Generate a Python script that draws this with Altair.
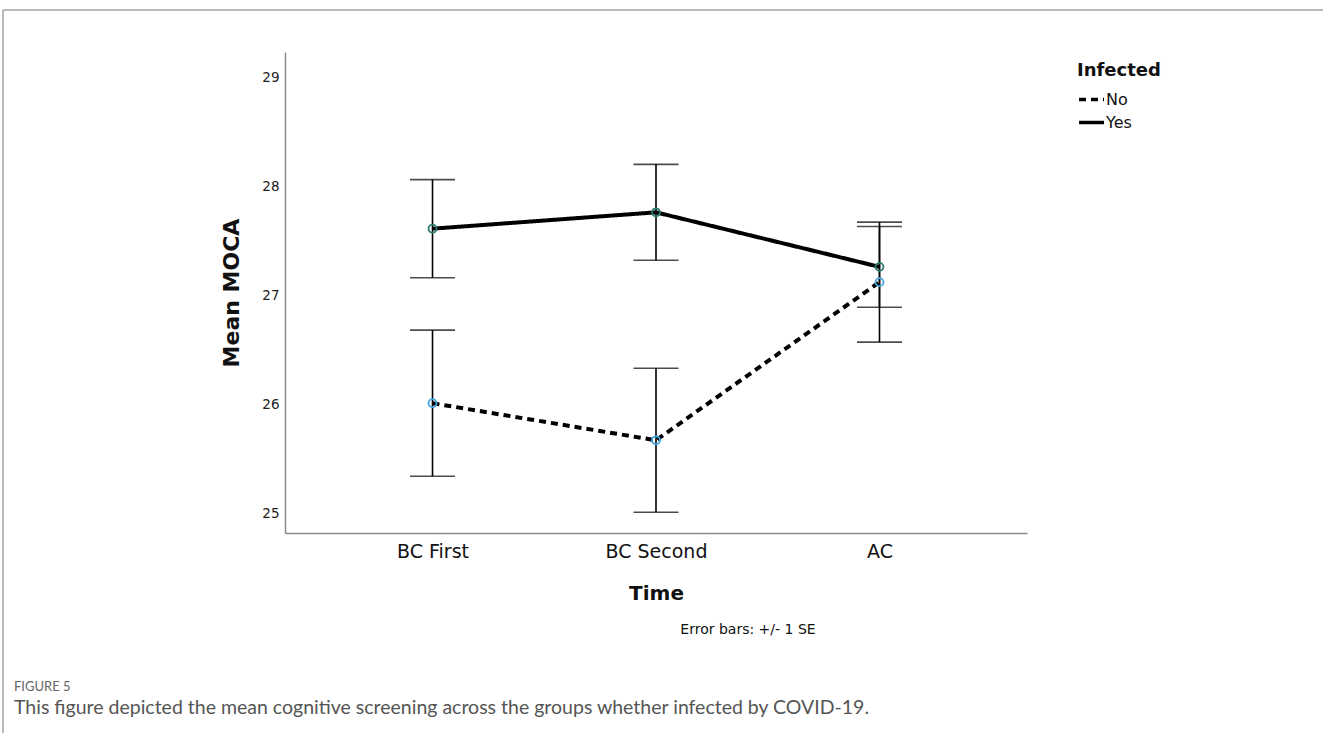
import altair as alt
import pandas as pd

times = ["BC First", "BC Second", "AC"]
groups = ["No", "Yes"]
no_mean = [26.01, 25.67, 27.12]
no_se = [0.67, 0.66, 0.55]
yes_mean = [27.61, 27.76, 27.26]
yes_se = [0.45, 0.44, 0.37]
y_ticks = [25, 26, 27, 28, 29]
point_colors = {"No": "#3fa6e0", "Yes": "#2b7a70"}

rows = []
for g, means, ses in [("No", no_mean, no_se), ("Yes", yes_mean, yes_se)]:
    for t, m, s in zip(times, means, ses):
        rows.append({"Time": t, "Infected": g, "mean": m, "lo": m - s, "hi": m + s})
df = pd.DataFrame(rows)

FONT = "DejaVu Sans"
CAPFONT = "Lato"
W, H = 742, 481

xenc = alt.X("Time:N", sort=times,
             scale=alt.Scale(type="point", padding=0.66),
             axis=alt.Axis(title="Time", labelAngle=0, labelAlign="center", ticks=False,
                           labelFontSize=19, labelPadding=18, titleFontSize=20,
                           titleFontWeight="bold", titlePadding=22, domainColor="#8a8a8a",
                           domainWidth=1.5, labelColor="#111", titleColor="#111",
                           labelFont=FONT, titleFont=FONT))
yscale = alt.Scale(domain=[24.82, 29.23], nice=False, zero=False)
yenc = alt.Y("mean:Q", scale=yscale,
             axis=alt.Axis(title="Mean MOCA", values=y_ticks, format="d", ticks=False,
                           grid=False, labelFontSize=13.5, labelPadding=6, titleFontSize=22,
                           titleFontWeight="bold", titlePadding=18, domainColor="#8a8a8a",
                           domainWidth=1.5, labelColor="#222", titleColor="#111",
                           labelFont=FONT, titleFont=FONT))

base = alt.Chart(df)

lines = base.mark_line(color="black", strokeWidth=4).encode(
    x=xenc, y=yenc,
    strokeDash=alt.StrokeDash("Infected:N", scale=alt.Scale(domain=groups, range=[[7, 5], [1, 0]]),
                              legend=alt.Legend(title="Infected", orient="none", legendX=792, legendY=10,
                                                symbolType="stroke", symbolStrokeColor="black",
                                                symbolStrokeWidth=3.5, symbolSize=625,
                                                labelFontSize=16, titleFontSize=18, titleFontWeight="bold",
                                                labelFont=FONT, titleFont=FONT, labelColor="#111",
                                                titleColor="#111", rowPadding=0, labelOffset=0,
                                                titlePadding=5)),
    detail="Infected:N")

bars = base.mark_rule(color="black", strokeWidth=1.6).encode(
    x=alt.X("Time:N", sort=times), y=alt.Y("lo:Q", scale=yscale), y2="hi:Q")
caps_lo = base.mark_tick(color="black", thickness=1.6, size=45, orient="horizontal").encode(
    x=alt.X("Time:N", sort=times), y=alt.Y("lo:Q", scale=yscale))
caps_hi = base.mark_tick(color="black", thickness=1.6, size=45, orient="horizontal").encode(
    x=alt.X("Time:N", sort=times), y=alt.Y("hi:Q", scale=yscale))

point_layers = [
    base.transform_filter(alt.datum.Infected == g).mark_point(
        filled=False, size=64, strokeWidth=1.8, opacity=1, color=point_colors[g]).encode(
        x=alt.X("Time:N", sort=times), y=alt.Y("mean:Q", scale=yscale))
    for g in groups
]

note = alt.Chart(pd.DataFrame({"t": ["Error bars: +/- 1 SE"]})).mark_text(
    fontSize=14, font=FONT, color="#111", align="center", baseline="middle").encode(
    text="t:N", x=alt.value(463), y=alt.value(578))
fig = alt.Chart(pd.DataFrame({"t": ["FIGURE 5"]})).mark_text(
    fontSize=13, font=CAPFONT, color="#666", align="left", baseline="middle").encode(
    text="t:N", x=alt.value(-271), y=alt.value(635))
cap = alt.Chart(pd.DataFrame({"t": ["This figure depicted the mean cognitive screening across the groups whether infected by COVID-19."]})).mark_text(
    fontSize=19.5, font=CAPFONT, color="#555", align="left", baseline="middle").encode(
    text="t:N", x=alt.value(-271), y=alt.value(656))

frame_top = alt.Chart(pd.DataFrame({"a": [0]})).mark_rule(color="#a5a5a5", strokeWidth=1.5).encode(
    x=alt.value(-282), x2=alt.value(1040), y=alt.value(-42))
frame_left = alt.Chart(pd.DataFrame({"a": [0]})).mark_rule(color="#a5a5a5", strokeWidth=1.5).encode(
    x=alt.value(-282), y=alt.value(-42), y2=alt.value(690))

chart = alt.layer(frame_top, frame_left, bars, caps_lo, caps_hi, lines, *point_layers, note, fig, cap).properties(
    width=W, height=H,
    autosize=alt.AutoSizeParams(type="none"),
    padding={"left": 285, "top": 52, "right": 296, "bottom": 200},
    background="white",
).configure_view(stroke=None).configure_axisX(grid=False)

chart.save("out.html", embed_options={"renderer": "svg", "actions": False})
